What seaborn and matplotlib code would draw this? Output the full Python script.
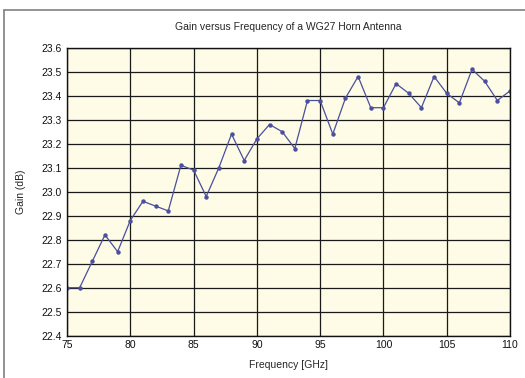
import numpy as np
import pandas as pd
import seaborn as sns
import matplotlib.pyplot as plt
from matplotlib.lines import Line2D

# Gain of the horn antenna, one point per GHz
freq_ghz = list(range(75, 111))
gain_db = [22.60, 22.60, 22.71, 22.82, 22.75, 22.88, 22.96, 22.94, 22.92, 23.11,
           23.09, 22.98, 23.10, 23.24, 23.13, 23.22, 23.28, 23.25, 23.18, 23.38,
           23.38, 23.24, 23.39, 23.48, 23.35, 23.35, 23.45, 23.41, 23.35, 23.48,
           23.41, 23.37, 23.51, 23.46, 23.38, 23.42]

df = pd.DataFrame({"Frequency": freq_ghz, "Gain": gain_db})

sns.set_theme(style="white")
plt.rcParams['font.family'] = ['Liberation Sans', 'DejaVu Sans']

fig = plt.figure(figsize=(5.25, 3.78), dpi=100)
ax = fig.add_axes([67 / 525, 1 - 335.7 / 378, (510 - 67) / 525, (335.7 - 47.7) / 378])
ax.set_facecolor('#fefbe6')

sns.lineplot(data=df, x="Frequency", y="Gain", ax=ax, color='#4a4f9e',
             linewidth=0.9, marker='o', markersize=3.2, markeredgewidth=0)

ax.set_xlim(75, 110)
ax.set_ylim(22.4, 23.6)
ax.set_xticks(np.arange(75, 111, 5))
ax.set_yticks(np.arange(22.4, 23.61, 0.1))
ax.set_yticklabels([f"{v:.1f}" for v in np.arange(22.4, 23.61, 0.1)])
ax.grid(True, color='#1a1a1a', linewidth=0.9)
ax.tick_params(axis='x', length=0, labelsize=7.5, pad=3, colors='#111111')
ax.tick_params(axis='y', length=0, labelsize=7.5, pad=4, colors='#111111')
for s in ax.spines.values():
    s.set_color('#111111')
    s.set_linewidth(1.0)

ax.set_xlabel('Frequency [GHz]', fontsize=7.5, labelpad=7)
ax.set_ylabel('Gain (dB)', fontsize=7.5, labelpad=11)
ax.set_title('Gain versus Frequency of a WG27 Horn Antenna', fontsize=7.5, pad=13)

# outer frame (only left and top edges show in the reference)
fig.add_artist(Line2D([3.5 / 525, 3.5 / 525], [0, 1 - 10 / 378], color='#808080', linewidth=1.2))
fig.add_artist(Line2D([3.5 / 525, 1], [1 - 10 / 378, 1 - 10 / 378], color='#808080', linewidth=1.2))

fig.savefig('out.png', dpi=100)
